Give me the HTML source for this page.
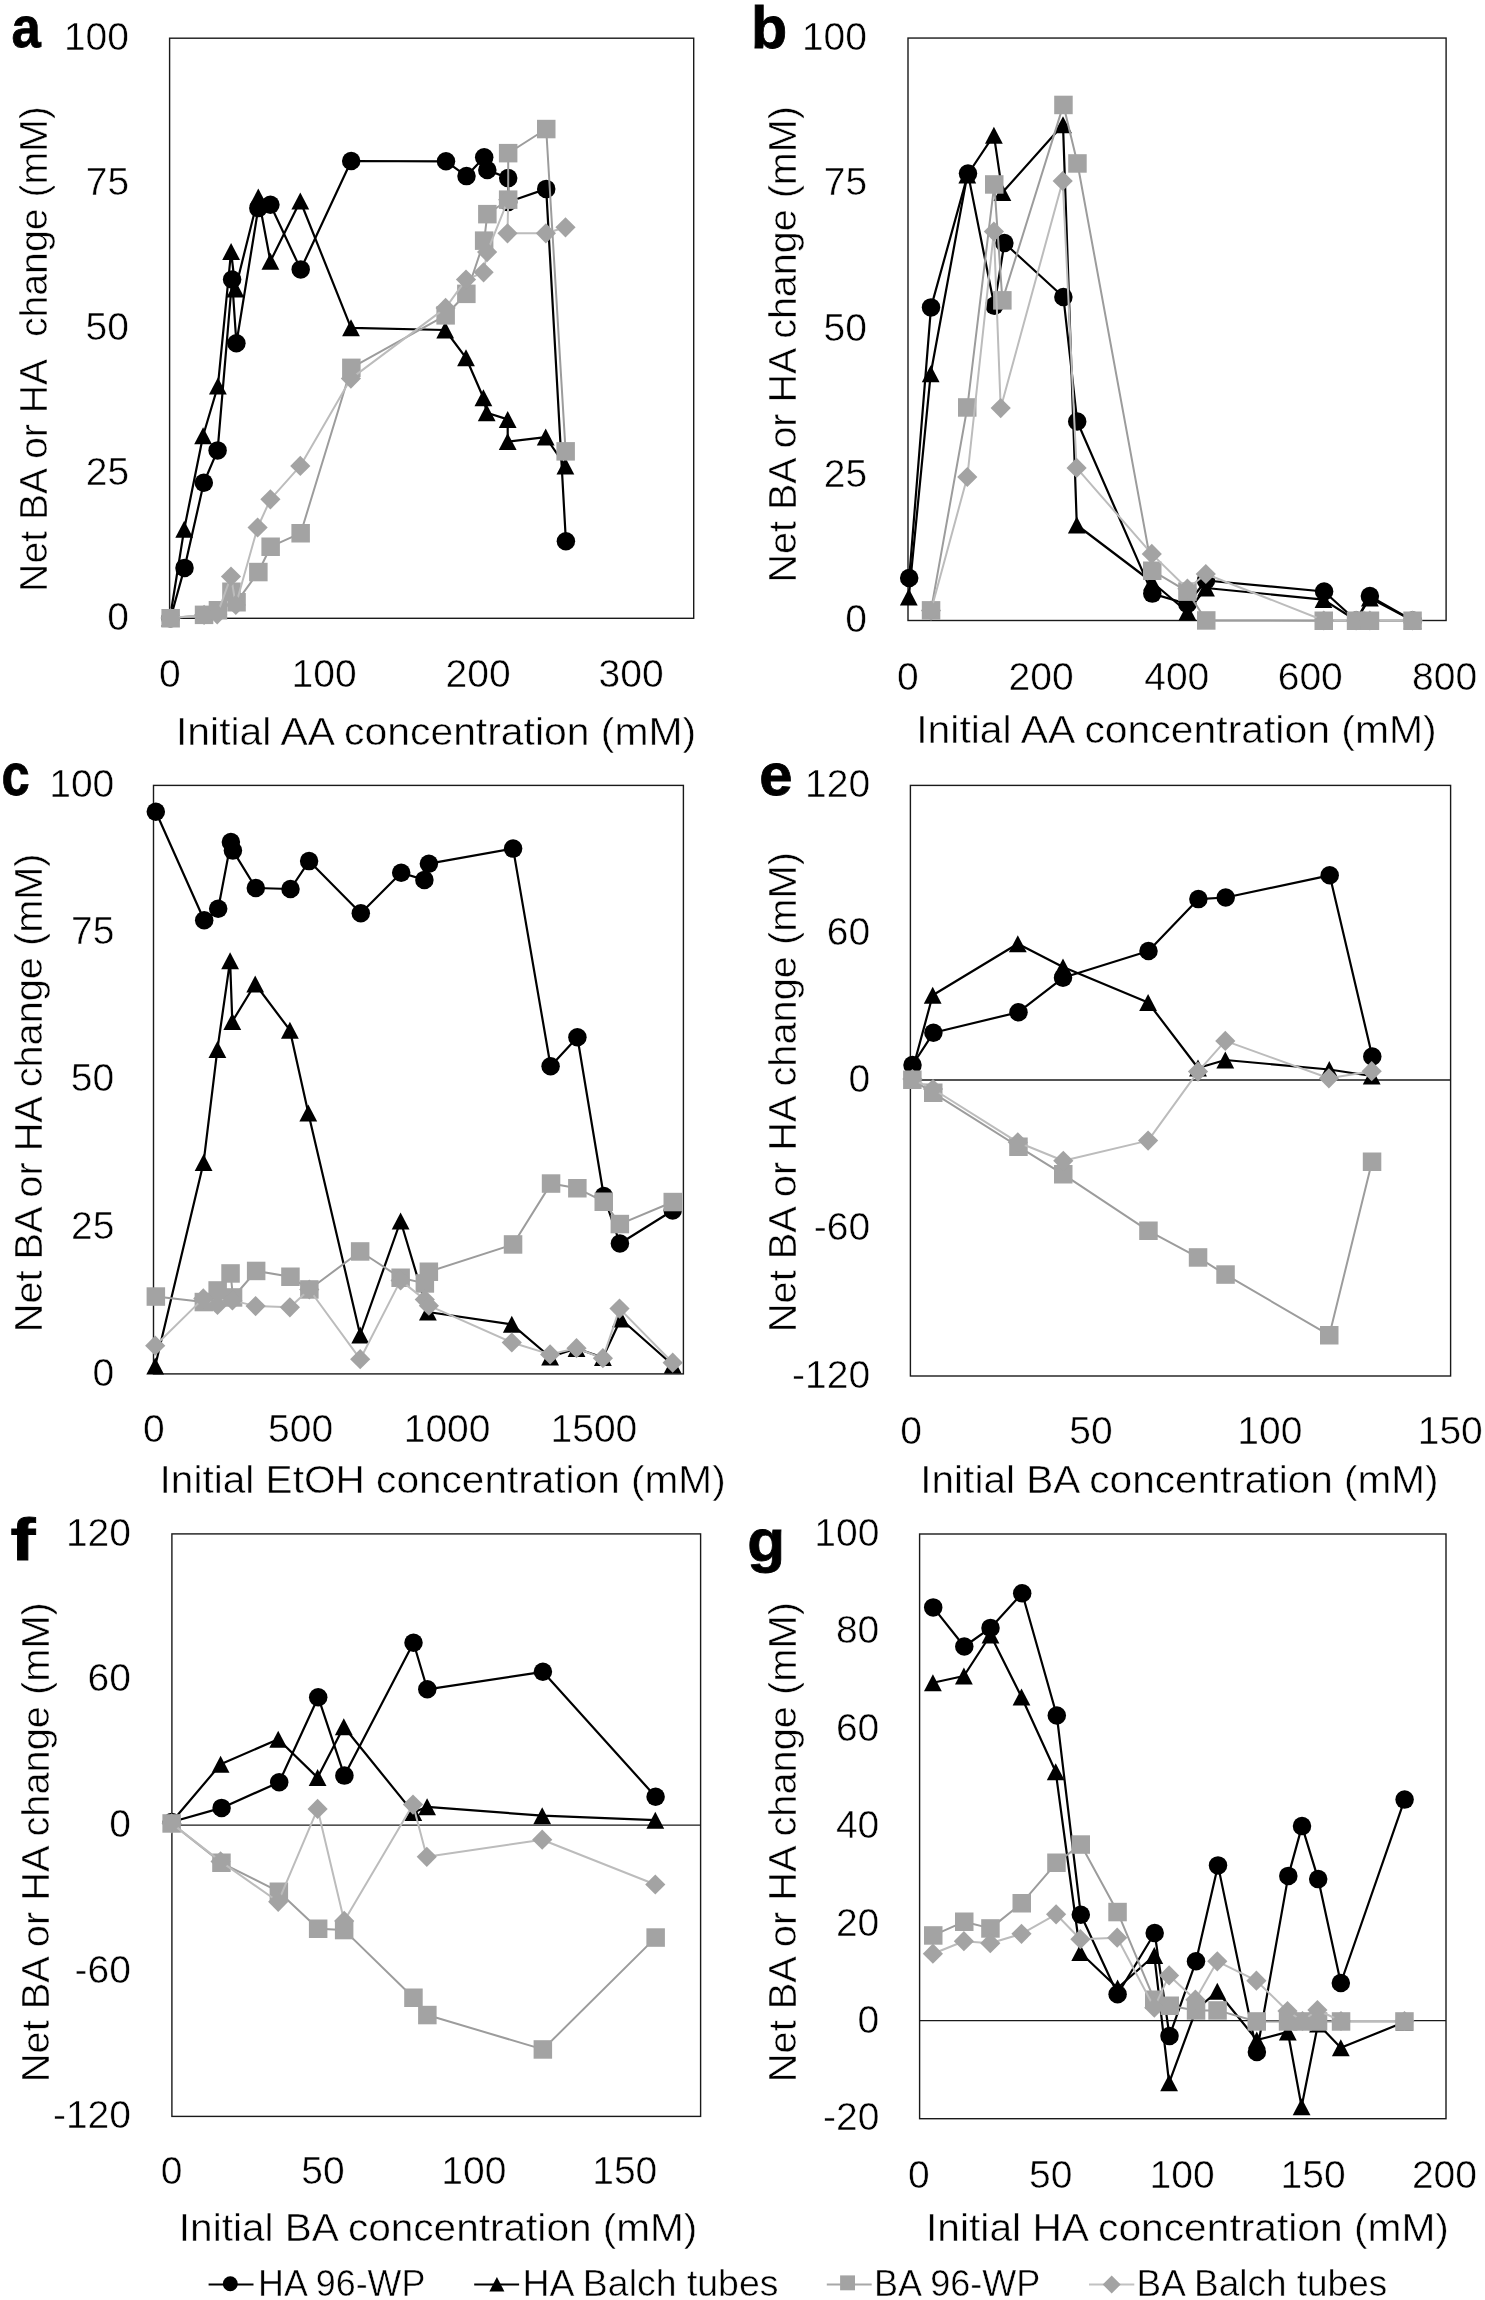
<!DOCTYPE html>
<html><head><meta charset="utf-8"><title>Figure</title>
<style>
html,body{margin:0;padding:0;background:#fff;}
body{width:1485px;height:2300px;overflow:hidden;}
svg{display:block;filter:grayscale(1);}
text{font-family:"Liberation Sans", sans-serif;fill:#000;stroke:#fff;stroke-width:0.5px;}
text[font-weight="bold"]{stroke:#000;stroke-width:0.8px;}
</style></head><body>
<svg width="1485" height="2300" viewBox="0 0 1485 2300">
<rect width="1485" height="2300" fill="#fff"/>
<rect x="169.60" y="38.20" width="524.10" height="580.10" fill="none" stroke="#1a1a1a" stroke-width="1.4"/>
<polyline points="170.5,618.2 184.5,567.9 203.8,482.8 217.6,450.4 232.1,279.5 236.4,343.2 258.3,208.1 270.4,204.7 300.7,269.4 351.2,161.0 446.0,161.3 466.5,176.1 484.2,157.2 487.3,170.0 508.2,178.1 508.2,202.0 546.2,188.9 565.9,541.2" fill="none" stroke="#000" stroke-width="2.20" stroke-linejoin="round" stroke-linecap="round"/>
<circle cx="170.5" cy="618.2" r="9.25" fill="#000"/>
<circle cx="184.5" cy="567.9" r="9.25" fill="#000"/>
<circle cx="203.8" cy="482.8" r="9.25" fill="#000"/>
<circle cx="217.6" cy="450.4" r="9.25" fill="#000"/>
<circle cx="232.1" cy="279.5" r="9.25" fill="#000"/>
<circle cx="236.4" cy="343.2" r="9.25" fill="#000"/>
<circle cx="258.3" cy="208.1" r="9.25" fill="#000"/>
<circle cx="270.4" cy="204.7" r="9.25" fill="#000"/>
<circle cx="300.7" cy="269.4" r="9.25" fill="#000"/>
<circle cx="351.2" cy="161.0" r="9.25" fill="#000"/>
<circle cx="446.0" cy="161.3" r="9.25" fill="#000"/>
<circle cx="466.5" cy="176.1" r="9.25" fill="#000"/>
<circle cx="484.2" cy="157.2" r="9.25" fill="#000"/>
<circle cx="487.3" cy="170.0" r="9.25" fill="#000"/>
<circle cx="508.2" cy="178.1" r="9.25" fill="#000"/>
<circle cx="508.2" cy="202.0" r="9.25" fill="#000"/>
<circle cx="546.2" cy="188.9" r="9.25" fill="#000"/>
<circle cx="565.9" cy="541.2" r="9.25" fill="#000"/>
<polyline points="170.0,618.0 184.2,529.2 203.1,435.8 217.9,386.0 231.1,251.5 235.4,289.0 258.3,197.0 270.4,261.3 300.3,201.0 351.0,327.8 445.2,330.0 466.0,357.8 483.4,397.8 486.7,412.7 507.7,419.4 507.7,441.6 545.7,437.1 565.4,466.0" fill="none" stroke="#000" stroke-width="2.20" stroke-linejoin="round" stroke-linecap="round"/>
<polygon points="170.0,609.5 178.9,626.5 161.1,626.5" fill="#000"/>
<polygon points="184.2,520.7 193.1,537.7 175.3,537.7" fill="#000"/>
<polygon points="203.1,427.3 212.0,444.3 194.2,444.3" fill="#000"/>
<polygon points="217.9,377.5 226.8,394.5 209.0,394.5" fill="#000"/>
<polygon points="231.1,243.0 240.0,260.0 222.2,260.0" fill="#000"/>
<polygon points="235.4,280.5 244.3,297.5 226.5,297.5" fill="#000"/>
<polygon points="258.3,188.5 267.2,205.5 249.4,205.5" fill="#000"/>
<polygon points="270.4,252.8 279.3,269.8 261.5,269.8" fill="#000"/>
<polygon points="300.3,192.5 309.2,209.5 291.4,209.5" fill="#000"/>
<polygon points="351.0,319.3 359.9,336.3 342.1,336.3" fill="#000"/>
<polygon points="445.2,321.5 454.1,338.5 436.3,338.5" fill="#000"/>
<polygon points="466.0,349.3 474.9,366.3 457.1,366.3" fill="#000"/>
<polygon points="483.4,389.3 492.3,406.3 474.5,406.3" fill="#000"/>
<polygon points="486.7,404.2 495.6,421.2 477.8,421.2" fill="#000"/>
<polygon points="507.7,410.9 516.6,427.9 498.8,427.9" fill="#000"/>
<polygon points="507.7,433.1 516.6,450.1 498.8,450.1" fill="#000"/>
<polygon points="545.7,428.6 554.6,445.6 536.8,445.6" fill="#000"/>
<polygon points="565.4,457.5 574.3,474.5 556.5,474.5" fill="#000"/>
<polyline points="170.7,618.3 204.1,614.9 217.9,610.3 231.5,591.8 236.6,602.2 258.3,572.0 270.7,546.7 300.7,533.2 351.3,367.8 445.6,315.3 466.4,293.8 484.2,240.7 487.3,214.2 508.2,199.7 508.2,153.2 546.2,129.0 565.6,451.4" fill="none" stroke="#9c9c9c" stroke-width="2.00" stroke-linejoin="round" stroke-linecap="round"/>
<rect x="161.4" y="609.0" width="18.5" height="18.5" fill="#a3a3a3"/>
<rect x="194.8" y="605.6" width="18.5" height="18.5" fill="#a3a3a3"/>
<rect x="208.7" y="601.0" width="18.5" height="18.5" fill="#a3a3a3"/>
<rect x="222.2" y="582.5" width="18.5" height="18.5" fill="#a3a3a3"/>
<rect x="227.3" y="593.0" width="18.5" height="18.5" fill="#a3a3a3"/>
<rect x="249.1" y="562.8" width="18.5" height="18.5" fill="#a3a3a3"/>
<rect x="261.4" y="537.5" width="18.5" height="18.5" fill="#a3a3a3"/>
<rect x="291.4" y="524.0" width="18.5" height="18.5" fill="#a3a3a3"/>
<rect x="342.1" y="358.6" width="18.5" height="18.5" fill="#a3a3a3"/>
<rect x="436.4" y="306.1" width="18.5" height="18.5" fill="#a3a3a3"/>
<rect x="457.1" y="284.6" width="18.5" height="18.5" fill="#a3a3a3"/>
<rect x="474.9" y="231.4" width="18.5" height="18.5" fill="#a3a3a3"/>
<rect x="478.1" y="204.9" width="18.5" height="18.5" fill="#a3a3a3"/>
<rect x="498.9" y="190.4" width="18.5" height="18.5" fill="#a3a3a3"/>
<rect x="498.9" y="143.9" width="18.5" height="18.5" fill="#a3a3a3"/>
<rect x="537.0" y="119.8" width="18.5" height="18.5" fill="#a3a3a3"/>
<rect x="556.4" y="442.1" width="18.5" height="18.5" fill="#a3a3a3"/>
<polyline points="170.5,618.0 204.1,614.9 217.2,614.3 231.0,576.5 235.8,604.9 257.6,527.5 270.4,499.3 300.3,465.9 350.9,378.6 445.6,307.9 466.0,279.6 483.6,272.3 487.1,252.1 508.2,199.7 507.5,233.3 545.9,233.3 565.5,227.3" fill="none" stroke="#bcbcbc" stroke-width="2.00" stroke-linejoin="round" stroke-linecap="round"/>
<polygon points="170.5,607.9 180.6,618.0 170.5,628.1 160.4,618.0" fill="#a3a3a3"/>
<polygon points="204.1,604.8 214.2,614.9 204.1,625.0 194.0,614.9" fill="#a3a3a3"/>
<polygon points="217.2,604.2 227.3,614.3 217.2,624.4 207.1,614.3" fill="#a3a3a3"/>
<polygon points="231.0,566.4 241.1,576.5 231.0,586.6 220.9,576.5" fill="#a3a3a3"/>
<polygon points="235.8,594.8 245.9,604.9 235.8,615.0 225.7,604.9" fill="#a3a3a3"/>
<polygon points="257.6,517.4 267.7,527.5 257.6,537.6 247.5,527.5" fill="#a3a3a3"/>
<polygon points="270.4,489.2 280.5,499.3 270.4,509.4 260.3,499.3" fill="#a3a3a3"/>
<polygon points="300.3,455.8 310.4,465.9 300.3,476.0 290.2,465.9" fill="#a3a3a3"/>
<polygon points="350.9,368.5 361.0,378.6 350.9,388.7 340.8,378.6" fill="#a3a3a3"/>
<polygon points="445.6,297.8 455.7,307.9 445.6,318.0 435.5,307.9" fill="#a3a3a3"/>
<polygon points="466.0,269.5 476.1,279.6 466.0,289.7 455.9,279.6" fill="#a3a3a3"/>
<polygon points="483.6,262.2 493.7,272.3 483.6,282.4 473.5,272.3" fill="#a3a3a3"/>
<polygon points="487.1,242.0 497.2,252.1 487.1,262.2 477.0,252.1" fill="#a3a3a3"/>
<polygon points="508.2,189.6 518.3,199.7 508.2,209.8 498.1,199.7" fill="#a3a3a3"/>
<polygon points="507.5,223.2 517.6,233.3 507.5,243.4 497.4,233.3" fill="#a3a3a3"/>
<polygon points="545.9,223.2 556.0,233.3 545.9,243.4 535.8,233.3" fill="#a3a3a3"/>
<polygon points="565.5,217.2 575.6,227.3 565.5,237.4 555.4,227.3" fill="#a3a3a3"/>
<text x="63.9" y="49.9" font-size="39.0">100</text>
<text x="85.7" y="194.9" font-size="39.0">75</text>
<text x="85.5" y="339.9" font-size="39.0">50</text>
<text x="85.7" y="485.0" font-size="39.0">25</text>
<text x="107.2" y="630.0" font-size="39.0">0</text>
<text x="158.9" y="686.6" font-size="39.0">0</text>
<text x="291.6" y="686.6" font-size="39.0">100</text>
<text x="445.6" y="686.6" font-size="39.0">200</text>
<text x="598.5" y="686.6" font-size="39.0">300</text>
<text x="176.0" y="745.0" font-size="39.4" textLength="520.1" lengthAdjust="spacingAndGlyphs">Initial AA concentration (mM)</text>
<text x="47.4" y="591.9" font-size="39.4" textLength="485.7" lengthAdjust="spacingAndGlyphs" transform="rotate(-90 47.4 591.9)">Net BA or HA&#160; change (mM)</text>
<text x="11.5" y="47.4" font-size="58.0" font-weight="bold" textLength="29.3" lengthAdjust="spacingAndGlyphs">a</text>
<rect x="908.00" y="38.05" width="538.10" height="582.45" fill="none" stroke="#1a1a1a" stroke-width="1.4"/>
<polyline points="909.2,578.0 931.0,307.4 968.0,173.6 994.3,305.8 1004.4,243.0 1063.4,297.0 1077.2,421.5 1152.3,593.6 1187.4,604.0 1206.0,580.5 1324.1,591.5 1356.1,620.5 1369.9,596.1 1412.6,620.5" fill="none" stroke="#000" stroke-width="2.20" stroke-linejoin="round" stroke-linecap="round"/>
<circle cx="909.2" cy="578.0" r="9.25" fill="#000"/>
<circle cx="931.0" cy="307.4" r="9.25" fill="#000"/>
<circle cx="968.0" cy="173.6" r="9.25" fill="#000"/>
<circle cx="994.3" cy="305.8" r="9.25" fill="#000"/>
<circle cx="1004.4" cy="243.0" r="9.25" fill="#000"/>
<circle cx="1063.4" cy="297.0" r="9.25" fill="#000"/>
<circle cx="1077.2" cy="421.5" r="9.25" fill="#000"/>
<circle cx="1152.3" cy="593.6" r="9.25" fill="#000"/>
<circle cx="1187.4" cy="604.0" r="9.25" fill="#000"/>
<circle cx="1206.0" cy="580.5" r="9.25" fill="#000"/>
<circle cx="1324.1" cy="591.5" r="9.25" fill="#000"/>
<circle cx="1356.1" cy="620.5" r="9.25" fill="#000"/>
<circle cx="1369.9" cy="596.1" r="9.25" fill="#000"/>
<circle cx="1412.6" cy="620.5" r="9.25" fill="#000"/>
<polyline points="908.8,597.0 930.7,373.8 967.3,175.0 993.9,135.2 1002.4,192.5 1063.0,124.8 1076.8,525.0 1152.0,582.0 1187.4,612.0 1206.0,588.0 1323.5,599.6 1356.1,620.5 1369.9,598.0 1412.6,620.5" fill="none" stroke="#000" stroke-width="2.20" stroke-linejoin="round" stroke-linecap="round"/>
<polygon points="908.8,588.5 917.7,605.5 899.9,605.5" fill="#000"/>
<polygon points="930.7,365.3 939.6,382.3 921.8,382.3" fill="#000"/>
<polygon points="967.3,166.5 976.2,183.5 958.4,183.5" fill="#000"/>
<polygon points="993.9,126.7 1002.8,143.7 985.0,143.7" fill="#000"/>
<polygon points="1002.4,184.0 1011.3,201.0 993.5,201.0" fill="#000"/>
<polygon points="1063.0,116.3 1071.9,133.3 1054.1,133.3" fill="#000"/>
<polygon points="1076.8,516.5 1085.7,533.5 1067.9,533.5" fill="#000"/>
<polygon points="1152.0,573.5 1160.9,590.5 1143.1,590.5" fill="#000"/>
<polygon points="1187.4,603.5 1196.3,620.5 1178.5,620.5" fill="#000"/>
<polygon points="1206.0,579.5 1214.9,596.5 1197.1,596.5" fill="#000"/>
<polygon points="1323.5,591.1 1332.4,608.1 1314.6,608.1" fill="#000"/>
<polygon points="1356.1,612.0 1365.0,629.0 1347.2,629.0" fill="#000"/>
<polygon points="1369.9,589.5 1378.8,606.5 1361.0,606.5" fill="#000"/>
<polygon points="1412.6,612.0 1421.5,629.0 1403.7,629.0" fill="#000"/>
<polyline points="931.0,610.4 967.3,407.5 994.3,184.4 1002.4,300.4 1063.4,104.9 1077.5,163.5 1152.3,570.7 1187.5,591.6 1206.2,620.5 1323.8,620.7 1356.1,620.7 1369.9,620.7 1412.6,620.7" fill="none" stroke="#9c9c9c" stroke-width="2.00" stroke-linejoin="round" stroke-linecap="round"/>
<rect x="921.8" y="601.1" width="18.5" height="18.5" fill="#a3a3a3"/>
<rect x="958.0" y="398.2" width="18.5" height="18.5" fill="#a3a3a3"/>
<rect x="985.0" y="175.2" width="18.5" height="18.5" fill="#a3a3a3"/>
<rect x="993.1" y="291.1" width="18.5" height="18.5" fill="#a3a3a3"/>
<rect x="1054.2" y="95.7" width="18.5" height="18.5" fill="#a3a3a3"/>
<rect x="1068.2" y="154.2" width="18.5" height="18.5" fill="#a3a3a3"/>
<rect x="1143.0" y="561.5" width="18.5" height="18.5" fill="#a3a3a3"/>
<rect x="1178.2" y="582.4" width="18.5" height="18.5" fill="#a3a3a3"/>
<rect x="1197.0" y="611.2" width="18.5" height="18.5" fill="#a3a3a3"/>
<rect x="1314.5" y="611.5" width="18.5" height="18.5" fill="#a3a3a3"/>
<rect x="1346.8" y="611.5" width="18.5" height="18.5" fill="#a3a3a3"/>
<rect x="1360.7" y="611.5" width="18.5" height="18.5" fill="#a3a3a3"/>
<rect x="1403.3" y="611.5" width="18.5" height="18.5" fill="#a3a3a3"/>
<polyline points="931.0,610.6 967.3,477.0 993.9,231.5 1000.7,408.1 1062.7,181.0 1076.6,467.9 1151.8,553.9 1187.4,588.7 1205.8,574.0 1323.8,620.5 1356.1,620.5 1369.9,620.5 1412.6,620.5" fill="none" stroke="#bcbcbc" stroke-width="2.00" stroke-linejoin="round" stroke-linecap="round"/>
<polygon points="931.0,600.5 941.1,610.6 931.0,620.7 920.9,610.6" fill="#a3a3a3"/>
<polygon points="967.3,466.9 977.4,477.0 967.3,487.1 957.2,477.0" fill="#a3a3a3"/>
<polygon points="993.9,221.4 1004.0,231.5 993.9,241.6 983.8,231.5" fill="#a3a3a3"/>
<polygon points="1000.7,398.0 1010.8,408.1 1000.7,418.2 990.6,408.1" fill="#a3a3a3"/>
<polygon points="1062.7,170.9 1072.8,181.0 1062.7,191.1 1052.6,181.0" fill="#a3a3a3"/>
<polygon points="1076.6,457.8 1086.7,467.9 1076.6,478.0 1066.5,467.9" fill="#a3a3a3"/>
<polygon points="1151.8,543.8 1161.9,553.9 1151.8,564.0 1141.7,553.9" fill="#a3a3a3"/>
<polygon points="1187.4,578.6 1197.5,588.7 1187.4,598.8 1177.3,588.7" fill="#a3a3a3"/>
<polygon points="1205.8,563.9 1215.9,574.0 1205.8,584.1 1195.7,574.0" fill="#a3a3a3"/>
<polygon points="1323.8,610.4 1333.9,620.5 1323.8,630.6 1313.7,620.5" fill="#a3a3a3"/>
<polygon points="1356.1,610.4 1366.2,620.5 1356.1,630.6 1346.0,620.5" fill="#a3a3a3"/>
<polygon points="1369.9,610.4 1380.0,620.5 1369.9,630.6 1359.8,620.5" fill="#a3a3a3"/>
<polygon points="1412.6,610.4 1422.7,620.5 1412.6,630.6 1402.5,620.5" fill="#a3a3a3"/>
<text x="801.9" y="49.8" font-size="39.0">100</text>
<text x="823.7" y="195.4" font-size="39.0">75</text>
<text x="823.5" y="341.0" font-size="39.0">50</text>
<text x="823.7" y="486.6" font-size="39.0">25</text>
<text x="845.2" y="632.2" font-size="39.0">0</text>
<text x="897.1" y="689.5" font-size="39.0">0</text>
<text x="1008.6" y="689.5" font-size="39.0">200</text>
<text x="1144.2" y="689.5" font-size="39.0">400</text>
<text x="1277.7" y="689.5" font-size="39.0">600</text>
<text x="1412.1" y="689.5" font-size="39.0">800</text>
<text x="916.2" y="743.0" font-size="39.4" textLength="520.5" lengthAdjust="spacingAndGlyphs">Initial AA concentration (mM)</text>
<text x="795.8" y="582.5" font-size="39.4" textLength="476.3" lengthAdjust="spacingAndGlyphs" transform="rotate(-90 795.8 582.5)">Net BA or HA change (mM)</text>
<text x="751.1" y="47.6" font-size="59.0" font-weight="bold" textLength="36.2" lengthAdjust="spacingAndGlyphs">b</text>
<rect x="153.50" y="785.40" width="529.90" height="588.50" fill="none" stroke="#1a1a1a" stroke-width="1.4"/>
<polyline points="155.8,811.8 204.2,920.3 218.2,908.8 230.9,842.1 232.9,850.6 255.8,888.0 290.5,889.0 309.1,861.1 360.8,913.2 401.2,872.8 424.4,879.9 428.9,863.7 513.1,848.6 550.6,1066.2 577.4,1037.3 603.8,1196.0 619.9,1243.5 672.7,1210.5" fill="none" stroke="#000" stroke-width="2.20" stroke-linejoin="round" stroke-linecap="round"/>
<circle cx="155.8" cy="811.8" r="9.25" fill="#000"/>
<circle cx="204.2" cy="920.3" r="9.25" fill="#000"/>
<circle cx="218.2" cy="908.8" r="9.25" fill="#000"/>
<circle cx="230.9" cy="842.1" r="9.25" fill="#000"/>
<circle cx="232.9" cy="850.6" r="9.25" fill="#000"/>
<circle cx="255.8" cy="888.0" r="9.25" fill="#000"/>
<circle cx="290.5" cy="889.0" r="9.25" fill="#000"/>
<circle cx="309.1" cy="861.1" r="9.25" fill="#000"/>
<circle cx="360.8" cy="913.2" r="9.25" fill="#000"/>
<circle cx="401.2" cy="872.8" r="9.25" fill="#000"/>
<circle cx="424.4" cy="879.9" r="9.25" fill="#000"/>
<circle cx="428.9" cy="863.7" r="9.25" fill="#000"/>
<circle cx="513.1" cy="848.6" r="9.25" fill="#000"/>
<circle cx="550.6" cy="1066.2" r="9.25" fill="#000"/>
<circle cx="577.4" cy="1037.3" r="9.25" fill="#000"/>
<circle cx="603.8" cy="1196.0" r="9.25" fill="#000"/>
<circle cx="619.9" cy="1243.5" r="9.25" fill="#000"/>
<circle cx="672.7" cy="1210.5" r="9.25" fill="#000"/>
<polyline points="155.2,1366.0 203.6,1162.4 217.4,1049.4 230.1,960.7 232.3,1021.5 255.2,984.0 289.9,1030.2 308.3,1113.0 360.2,1335.0 400.6,1221.0 427.9,1312.0 511.8,1324.3 550.1,1357.0 576.5,1348.5 602.9,1357.5 620.8,1319.0 672.7,1365.0" fill="none" stroke="#000" stroke-width="2.20" stroke-linejoin="round" stroke-linecap="round"/>
<polygon points="155.2,1357.5 164.1,1374.5 146.3,1374.5" fill="#000"/>
<polygon points="203.6,1153.9 212.5,1170.9 194.7,1170.9" fill="#000"/>
<polygon points="217.4,1040.9 226.3,1057.9 208.5,1057.9" fill="#000"/>
<polygon points="230.1,952.2 239.0,969.2 221.2,969.2" fill="#000"/>
<polygon points="232.3,1013.0 241.2,1030.0 223.4,1030.0" fill="#000"/>
<polygon points="255.2,975.5 264.1,992.5 246.3,992.5" fill="#000"/>
<polygon points="289.9,1021.7 298.8,1038.7 281.0,1038.7" fill="#000"/>
<polygon points="308.3,1104.5 317.2,1121.5 299.4,1121.5" fill="#000"/>
<polygon points="360.2,1326.5 369.1,1343.5 351.3,1343.5" fill="#000"/>
<polygon points="400.6,1212.5 409.5,1229.5 391.7,1229.5" fill="#000"/>
<polygon points="427.9,1303.5 436.8,1320.5 419.0,1320.5" fill="#000"/>
<polygon points="511.8,1315.8 520.7,1332.8 502.9,1332.8" fill="#000"/>
<polygon points="550.1,1348.5 559.0,1365.5 541.2,1365.5" fill="#000"/>
<polygon points="576.5,1340.0 585.4,1357.0 567.6,1357.0" fill="#000"/>
<polygon points="602.9,1349.0 611.8,1366.0 594.0,1366.0" fill="#000"/>
<polygon points="620.8,1310.5 629.7,1327.5 611.9,1327.5" fill="#000"/>
<polygon points="672.7,1356.5 681.6,1373.5 663.8,1373.5" fill="#000"/>
<polyline points="155.8,1296.6 203.8,1302.1 217.7,1290.4 230.6,1273.4 233.0,1297.5 256.2,1270.9 290.5,1276.8 309.3,1289.5 360.2,1251.5 400.6,1277.8 424.8,1283.4 428.9,1271.7 513.0,1244.5 551.0,1183.6 577.4,1188.3 603.8,1201.7 619.9,1224.1 672.7,1202.0" fill="none" stroke="#9c9c9c" stroke-width="2.00" stroke-linejoin="round" stroke-linecap="round"/>
<rect x="146.6" y="1287.3" width="18.5" height="18.5" fill="#a3a3a3"/>
<rect x="194.6" y="1292.8" width="18.5" height="18.5" fill="#a3a3a3"/>
<rect x="208.4" y="1281.2" width="18.5" height="18.5" fill="#a3a3a3"/>
<rect x="221.3" y="1264.2" width="18.5" height="18.5" fill="#a3a3a3"/>
<rect x="223.8" y="1288.2" width="18.5" height="18.5" fill="#a3a3a3"/>
<rect x="246.9" y="1261.7" width="18.5" height="18.5" fill="#a3a3a3"/>
<rect x="281.2" y="1267.5" width="18.5" height="18.5" fill="#a3a3a3"/>
<rect x="300.1" y="1280.2" width="18.5" height="18.5" fill="#a3a3a3"/>
<rect x="350.9" y="1242.2" width="18.5" height="18.5" fill="#a3a3a3"/>
<rect x="391.4" y="1268.5" width="18.5" height="18.5" fill="#a3a3a3"/>
<rect x="415.6" y="1274.2" width="18.5" height="18.5" fill="#a3a3a3"/>
<rect x="419.6" y="1262.5" width="18.5" height="18.5" fill="#a3a3a3"/>
<rect x="503.8" y="1235.2" width="18.5" height="18.5" fill="#a3a3a3"/>
<rect x="541.8" y="1174.3" width="18.5" height="18.5" fill="#a3a3a3"/>
<rect x="568.1" y="1179.0" width="18.5" height="18.5" fill="#a3a3a3"/>
<rect x="594.5" y="1192.5" width="18.5" height="18.5" fill="#a3a3a3"/>
<rect x="610.6" y="1214.8" width="18.5" height="18.5" fill="#a3a3a3"/>
<rect x="663.5" y="1192.8" width="18.5" height="18.5" fill="#a3a3a3"/>
<polyline points="155.2,1345.7 203.3,1298.4 217.5,1305.0 232.4,1300.4 255.6,1306.1 289.9,1307.3 309.3,1289.5 360.2,1359.2 400.6,1280.4 424.8,1299.6 428.9,1305.7 511.8,1342.5 550.1,1354.4 576.5,1348.2 602.9,1358.2 619.5,1308.6 672.7,1362.7" fill="none" stroke="#bcbcbc" stroke-width="2.00" stroke-linejoin="round" stroke-linecap="round"/>
<polygon points="155.2,1335.6 165.3,1345.7 155.2,1355.8 145.1,1345.7" fill="#a3a3a3"/>
<polygon points="203.3,1288.3 213.4,1298.4 203.3,1308.5 193.2,1298.4" fill="#a3a3a3"/>
<polygon points="217.5,1294.9 227.6,1305.0 217.5,1315.1 207.4,1305.0" fill="#a3a3a3"/>
<polygon points="232.4,1290.3 242.5,1300.4 232.4,1310.5 222.3,1300.4" fill="#a3a3a3"/>
<polygon points="255.6,1296.0 265.7,1306.1 255.6,1316.2 245.5,1306.1" fill="#a3a3a3"/>
<polygon points="289.9,1297.2 300.0,1307.3 289.9,1317.4 279.8,1307.3" fill="#a3a3a3"/>
<polygon points="309.3,1279.4 319.4,1289.5 309.3,1299.6 299.2,1289.5" fill="#a3a3a3"/>
<polygon points="360.2,1349.1 370.3,1359.2 360.2,1369.3 350.1,1359.2" fill="#a3a3a3"/>
<polygon points="400.6,1270.3 410.7,1280.4 400.6,1290.5 390.5,1280.4" fill="#a3a3a3"/>
<polygon points="424.8,1289.5 434.9,1299.6 424.8,1309.7 414.7,1299.6" fill="#a3a3a3"/>
<polygon points="428.9,1295.6 439.0,1305.7 428.9,1315.8 418.8,1305.7" fill="#a3a3a3"/>
<polygon points="511.8,1332.4 521.9,1342.5 511.8,1352.6 501.7,1342.5" fill="#a3a3a3"/>
<polygon points="550.1,1344.3 560.2,1354.4 550.1,1364.5 540.0,1354.4" fill="#a3a3a3"/>
<polygon points="576.5,1338.1 586.6,1348.2 576.5,1358.3 566.4,1348.2" fill="#a3a3a3"/>
<polygon points="602.9,1348.1 613.0,1358.2 602.9,1368.3 592.8,1358.2" fill="#a3a3a3"/>
<polygon points="619.5,1298.5 629.6,1308.6 619.5,1318.7 609.4,1308.6" fill="#a3a3a3"/>
<polygon points="672.7,1352.6 682.8,1362.7 672.7,1372.8 662.6,1362.7" fill="#a3a3a3"/>
<text x="49.2" y="797.1" font-size="39.0">100</text>
<text x="71.0" y="944.2" font-size="39.0">75</text>
<text x="70.8" y="1091.4" font-size="39.0">50</text>
<text x="71.0" y="1238.5" font-size="39.0">25</text>
<text x="92.5" y="1385.6" font-size="39.0">0</text>
<text x="143.1" y="1442.0" font-size="39.0">0</text>
<text x="268.1" y="1442.0" font-size="39.0">500</text>
<text x="403.7" y="1442.0" font-size="39.0">1000</text>
<text x="550.5" y="1442.0" font-size="39.0">1500</text>
<text x="159.6" y="1493.3" font-size="39.4" textLength="566.1" lengthAdjust="spacingAndGlyphs">Initial EtOH concentration (mM)</text>
<text x="41.7" y="1332.2" font-size="39.4" textLength="478.7" lengthAdjust="spacingAndGlyphs" transform="rotate(-90 41.7 1332.2)">Net BA or HA change (mM)</text>
<text x="1.6" y="795.2" font-size="59.0" font-weight="bold" textLength="28.2" lengthAdjust="spacingAndGlyphs">c</text>
<rect x="910.40" y="785.40" width="540.20" height="590.60" fill="none" stroke="#1a1a1a" stroke-width="1.4"/>
<line x1="910.40" y1="1080.00" x2="1450.60" y2="1080.00" stroke="#1a1a1a" stroke-width="1.4"/>
<polyline points="912.5,1065.0 933.4,1032.8 1018.5,1012.2 1063.0,977.8 1148.5,951.0 1198.4,899.1 1225.7,897.5 1329.7,875.3 1372.3,1056.5" fill="none" stroke="#000" stroke-width="2.20" stroke-linejoin="round" stroke-linecap="round"/>
<circle cx="912.5" cy="1065.0" r="9.25" fill="#000"/>
<circle cx="933.4" cy="1032.8" r="9.25" fill="#000"/>
<circle cx="1018.5" cy="1012.2" r="9.25" fill="#000"/>
<circle cx="1063.0" cy="977.8" r="9.25" fill="#000"/>
<circle cx="1148.5" cy="951.0" r="9.25" fill="#000"/>
<circle cx="1198.4" cy="899.1" r="9.25" fill="#000"/>
<circle cx="1225.7" cy="897.5" r="9.25" fill="#000"/>
<circle cx="1329.7" cy="875.3" r="9.25" fill="#000"/>
<circle cx="1372.3" cy="1056.5" r="9.25" fill="#000"/>
<polyline points="912.5,1070.0 932.7,995.3 1017.8,943.8 1063.0,967.0 1148.1,1002.5 1198.0,1068.0 1225.3,1060.0 1329.3,1069.5 1371.7,1076.0" fill="none" stroke="#000" stroke-width="2.20" stroke-linejoin="round" stroke-linecap="round"/>
<polygon points="912.5,1061.5 921.4,1078.5 903.6,1078.5" fill="#000"/>
<polygon points="932.7,986.8 941.6,1003.8 923.8,1003.8" fill="#000"/>
<polygon points="1017.8,935.3 1026.7,952.3 1008.9,952.3" fill="#000"/>
<polygon points="1063.0,958.5 1071.9,975.5 1054.1,975.5" fill="#000"/>
<polygon points="1148.1,994.0 1157.0,1011.0 1139.2,1011.0" fill="#000"/>
<polygon points="1198.0,1059.5 1206.9,1076.5 1189.1,1076.5" fill="#000"/>
<polygon points="1225.3,1051.5 1234.2,1068.5 1216.4,1068.5" fill="#000"/>
<polygon points="1329.3,1061.0 1338.2,1078.0 1320.4,1078.0" fill="#000"/>
<polygon points="1371.7,1067.5 1380.6,1084.5 1362.8,1084.5" fill="#000"/>
<polyline points="912.4,1079.8 933.2,1092.8 1018.5,1146.7 1063.3,1174.3 1148.5,1230.8 1198.0,1257.4 1225.6,1274.6 1329.3,1335.2 1372.0,1161.8" fill="none" stroke="#9c9c9c" stroke-width="2.00" stroke-linejoin="round" stroke-linecap="round"/>
<rect x="903.1" y="1070.5" width="18.5" height="18.5" fill="#a3a3a3"/>
<rect x="924.0" y="1083.5" width="18.5" height="18.5" fill="#a3a3a3"/>
<rect x="1009.2" y="1137.5" width="18.5" height="18.5" fill="#a3a3a3"/>
<rect x="1054.0" y="1165.0" width="18.5" height="18.5" fill="#a3a3a3"/>
<rect x="1139.2" y="1221.5" width="18.5" height="18.5" fill="#a3a3a3"/>
<rect x="1188.8" y="1248.2" width="18.5" height="18.5" fill="#a3a3a3"/>
<rect x="1216.3" y="1265.3" width="18.5" height="18.5" fill="#a3a3a3"/>
<rect x="1320.0" y="1326.0" width="18.5" height="18.5" fill="#a3a3a3"/>
<rect x="1362.8" y="1152.5" width="18.5" height="18.5" fill="#a3a3a3"/>
<polyline points="912.4,1079.0 933.0,1089.0 1017.8,1142.3 1063.3,1160.8 1148.1,1140.6 1198.0,1071.6 1225.3,1040.9 1328.9,1078.3 1371.7,1071.2" fill="none" stroke="#bcbcbc" stroke-width="2.00" stroke-linejoin="round" stroke-linecap="round"/>
<polygon points="912.4,1068.9 922.5,1079.0 912.4,1089.1 902.3,1079.0" fill="#a3a3a3"/>
<polygon points="933.0,1078.9 943.1,1089.0 933.0,1099.1 922.9,1089.0" fill="#a3a3a3"/>
<polygon points="1017.8,1132.2 1027.9,1142.3 1017.8,1152.4 1007.7,1142.3" fill="#a3a3a3"/>
<polygon points="1063.3,1150.7 1073.4,1160.8 1063.3,1170.9 1053.2,1160.8" fill="#a3a3a3"/>
<polygon points="1148.1,1130.5 1158.2,1140.6 1148.1,1150.7 1138.0,1140.6" fill="#a3a3a3"/>
<polygon points="1198.0,1061.5 1208.1,1071.6 1198.0,1081.7 1187.9,1071.6" fill="#a3a3a3"/>
<polygon points="1225.3,1030.8 1235.4,1040.9 1225.3,1051.0 1215.2,1040.9" fill="#a3a3a3"/>
<polygon points="1328.9,1068.2 1339.0,1078.3 1328.9,1088.4 1318.8,1078.3" fill="#a3a3a3"/>
<polygon points="1371.7,1061.1 1381.8,1071.2 1371.7,1081.3 1361.6,1071.2" fill="#a3a3a3"/>
<text x="805.1" y="797.1" font-size="39.0">120</text>
<text x="826.7" y="944.8" font-size="39.0">60</text>
<text x="848.4" y="1092.4" font-size="39.0">0</text>
<text x="813.8" y="1240.0" font-size="39.0">-60</text>
<text x="792.1" y="1387.7" font-size="39.0">-120</text>
<text x="900.2" y="1444.4" font-size="39.0">0</text>
<text x="1069.3" y="1444.4" font-size="39.0">50</text>
<text x="1237.3" y="1444.4" font-size="39.0">100</text>
<text x="1417.7" y="1444.4" font-size="39.0">150</text>
<text x="920.3" y="1492.9" font-size="39.4" textLength="518.3" lengthAdjust="spacingAndGlyphs">Initial BA concentration (mM)</text>
<text x="796.3" y="1332.2" font-size="39.4" textLength="480.1" lengthAdjust="spacingAndGlyphs" transform="rotate(-90 796.3 1332.2)">Net BA or HA change (mM)</text>
<text x="759.2" y="795.1" font-size="59.5" font-weight="bold" textLength="33.3" lengthAdjust="spacingAndGlyphs">e</text>
<rect x="171.90" y="1533.90" width="528.70" height="582.50" fill="none" stroke="#1a1a1a" stroke-width="1.4"/>
<line x1="171.90" y1="1825.10" x2="700.60" y2="1825.10" stroke="#1a1a1a" stroke-width="1.4"/>
<polyline points="171.7,1822.0 221.6,1807.9 279.2,1782.2 318.2,1697.2 344.4,1775.6 413.5,1642.8 427.3,1689.3 542.9,1671.8 655.6,1796.7" fill="none" stroke="#000" stroke-width="2.20" stroke-linejoin="round" stroke-linecap="round"/>
<circle cx="171.7" cy="1822.0" r="9.25" fill="#000"/>
<circle cx="221.6" cy="1807.9" r="9.25" fill="#000"/>
<circle cx="279.2" cy="1782.2" r="9.25" fill="#000"/>
<circle cx="318.2" cy="1697.2" r="9.25" fill="#000"/>
<circle cx="344.4" cy="1775.6" r="9.25" fill="#000"/>
<circle cx="413.5" cy="1642.8" r="9.25" fill="#000"/>
<circle cx="427.3" cy="1689.3" r="9.25" fill="#000"/>
<circle cx="542.9" cy="1671.8" r="9.25" fill="#000"/>
<circle cx="655.6" cy="1796.7" r="9.25" fill="#000"/>
<polyline points="171.7,1822.0 220.6,1764.3 278.2,1739.2 317.6,1777.6 343.8,1726.8 413.3,1812.6 427.1,1806.8 542.2,1815.7 655.3,1820.2" fill="none" stroke="#000" stroke-width="2.20" stroke-linejoin="round" stroke-linecap="round"/>
<polygon points="171.7,1813.5 180.6,1830.5 162.8,1830.5" fill="#000"/>
<polygon points="220.6,1755.8 229.5,1772.8 211.7,1772.8" fill="#000"/>
<polygon points="278.2,1730.7 287.1,1747.7 269.3,1747.7" fill="#000"/>
<polygon points="317.6,1769.1 326.5,1786.1 308.7,1786.1" fill="#000"/>
<polygon points="343.8,1718.3 352.7,1735.3 334.9,1735.3" fill="#000"/>
<polygon points="413.3,1804.1 422.2,1821.1 404.4,1821.1" fill="#000"/>
<polygon points="427.1,1798.3 436.0,1815.3 418.2,1815.3" fill="#000"/>
<polygon points="542.2,1807.2 551.1,1824.2 533.3,1824.2" fill="#000"/>
<polygon points="655.3,1811.7 664.2,1828.7 646.4,1828.7" fill="#000"/>
<polyline points="171.7,1823.4 221.4,1862.8 278.8,1891.7 318.2,1928.7 344.2,1930.1 413.5,1997.8 427.3,2015.0 542.9,2049.4 655.6,1937.6" fill="none" stroke="#9c9c9c" stroke-width="2.00" stroke-linejoin="round" stroke-linecap="round"/>
<rect x="162.4" y="1814.2" width="18.5" height="18.5" fill="#a3a3a3"/>
<rect x="212.2" y="1853.5" width="18.5" height="18.5" fill="#a3a3a3"/>
<rect x="269.6" y="1882.5" width="18.5" height="18.5" fill="#a3a3a3"/>
<rect x="308.9" y="1919.5" width="18.5" height="18.5" fill="#a3a3a3"/>
<rect x="334.9" y="1920.8" width="18.5" height="18.5" fill="#a3a3a3"/>
<rect x="404.2" y="1988.5" width="18.5" height="18.5" fill="#a3a3a3"/>
<rect x="418.1" y="2005.8" width="18.5" height="18.5" fill="#a3a3a3"/>
<rect x="533.6" y="2040.2" width="18.5" height="18.5" fill="#a3a3a3"/>
<rect x="646.4" y="1928.3" width="18.5" height="18.5" fill="#a3a3a3"/>
<polyline points="171.7,1823.4 220.6,1861.4 278.2,1901.8 317.6,1808.9 344.2,1920.9 413.0,1804.6 426.8,1856.8 542.2,1839.7 655.3,1884.5" fill="none" stroke="#bcbcbc" stroke-width="2.00" stroke-linejoin="round" stroke-linecap="round"/>
<polygon points="171.7,1813.3 181.8,1823.4 171.7,1833.5 161.6,1823.4" fill="#a3a3a3"/>
<polygon points="220.6,1851.3 230.7,1861.4 220.6,1871.5 210.5,1861.4" fill="#a3a3a3"/>
<polygon points="278.2,1891.7 288.3,1901.8 278.2,1911.9 268.1,1901.8" fill="#a3a3a3"/>
<polygon points="317.6,1798.8 327.7,1808.9 317.6,1819.0 307.5,1808.9" fill="#a3a3a3"/>
<polygon points="344.2,1910.8 354.3,1920.9 344.2,1931.0 334.1,1920.9" fill="#a3a3a3"/>
<polygon points="413.0,1794.5 423.1,1804.6 413.0,1814.7 402.9,1804.6" fill="#a3a3a3"/>
<polygon points="426.8,1846.7 436.9,1856.8 426.8,1866.9 416.7,1856.8" fill="#a3a3a3"/>
<polygon points="542.2,1829.6 552.3,1839.7 542.2,1849.8 532.1,1839.7" fill="#a3a3a3"/>
<polygon points="655.3,1874.4 665.4,1884.5 655.3,1894.6 645.2,1884.5" fill="#a3a3a3"/>
<text x="65.9" y="1545.6" font-size="39.0">120</text>
<text x="87.5" y="1691.2" font-size="39.0">60</text>
<text x="109.2" y="1836.9" font-size="39.0">0</text>
<text x="74.6" y="1982.5" font-size="39.0">-60</text>
<text x="52.9" y="2128.1" font-size="39.0">-120</text>
<text x="160.7" y="2184.4" font-size="39.0">0</text>
<text x="301.3" y="2184.4" font-size="39.0">50</text>
<text x="441.3" y="2184.4" font-size="39.0">100</text>
<text x="592.2" y="2184.4" font-size="39.0">150</text>
<text x="178.8" y="2241.0" font-size="39.4" textLength="518.6" lengthAdjust="spacingAndGlyphs">Initial BA concentration (mM)</text>
<text x="48.7" y="2082.2" font-size="39.4" textLength="480.1" lengthAdjust="spacingAndGlyphs" transform="rotate(-90 48.7 2082.2)">Net BA or HA change (mM)</text>
<text x="10.4" y="1560.1" font-size="59.4" font-weight="bold" textLength="25.0" lengthAdjust="spacingAndGlyphs">f</text>
<rect x="919.60" y="1534.00" width="526.40" height="584.70" fill="none" stroke="#1a1a1a" stroke-width="1.4"/>
<line x1="919.60" y1="2020.60" x2="1446.00" y2="2020.60" stroke="#1a1a1a" stroke-width="1.4"/>
<polyline points="933.2,1607.4 964.3,1646.5 990.5,1627.9 1022.2,1593.3 1056.8,1715.5 1080.8,1914.7 1117.6,1994.3 1154.7,1933.0 1169.5,2036.0 1196.0,1961.3 1218.0,1865.4 1256.9,2052.0 1288.3,1875.9 1302.0,1826.1 1318.2,1879.1 1340.8,1983.0 1404.6,1799.6" fill="none" stroke="#000" stroke-width="2.20" stroke-linejoin="round" stroke-linecap="round"/>
<circle cx="933.2" cy="1607.4" r="9.25" fill="#000"/>
<circle cx="964.3" cy="1646.5" r="9.25" fill="#000"/>
<circle cx="990.5" cy="1627.9" r="9.25" fill="#000"/>
<circle cx="1022.2" cy="1593.3" r="9.25" fill="#000"/>
<circle cx="1056.8" cy="1715.5" r="9.25" fill="#000"/>
<circle cx="1080.8" cy="1914.7" r="9.25" fill="#000"/>
<circle cx="1117.6" cy="1994.3" r="9.25" fill="#000"/>
<circle cx="1154.7" cy="1933.0" r="9.25" fill="#000"/>
<circle cx="1169.5" cy="2036.0" r="9.25" fill="#000"/>
<circle cx="1196.0" cy="1961.3" r="9.25" fill="#000"/>
<circle cx="1218.0" cy="1865.4" r="9.25" fill="#000"/>
<circle cx="1256.9" cy="2052.0" r="9.25" fill="#000"/>
<circle cx="1288.3" cy="1875.9" r="9.25" fill="#000"/>
<circle cx="1302.0" cy="1826.1" r="9.25" fill="#000"/>
<circle cx="1318.2" cy="1879.1" r="9.25" fill="#000"/>
<circle cx="1340.8" cy="1983.0" r="9.25" fill="#000"/>
<circle cx="1404.6" cy="1799.6" r="9.25" fill="#000"/>
<polyline points="932.9,1682.8 963.9,1676.0 990.5,1635.0 1021.5,1697.0 1055.7,1771.7 1080.2,1952.5 1117.6,1988.0 1154.3,1955.5 1169.1,2082.8 1196.0,2010.0 1217.3,1991.3 1256.8,2040.0 1287.8,2031.9 1301.6,2106.7 1318.0,2024.0 1340.8,2047.8 1404.5,2022.0" fill="none" stroke="#000" stroke-width="2.20" stroke-linejoin="round" stroke-linecap="round"/>
<polygon points="932.9,1674.3 941.8,1691.3 924.0,1691.3" fill="#000"/>
<polygon points="963.9,1667.5 972.8,1684.5 955.0,1684.5" fill="#000"/>
<polygon points="990.5,1626.5 999.4,1643.5 981.6,1643.5" fill="#000"/>
<polygon points="1021.5,1688.5 1030.4,1705.5 1012.6,1705.5" fill="#000"/>
<polygon points="1055.7,1763.2 1064.6,1780.2 1046.8,1780.2" fill="#000"/>
<polygon points="1080.2,1944.0 1089.1,1961.0 1071.3,1961.0" fill="#000"/>
<polygon points="1117.6,1979.5 1126.5,1996.5 1108.7,1996.5" fill="#000"/>
<polygon points="1154.3,1947.0 1163.2,1964.0 1145.4,1964.0" fill="#000"/>
<polygon points="1169.1,2074.3 1178.0,2091.3 1160.2,2091.3" fill="#000"/>
<polygon points="1196.0,2001.5 1204.9,2018.5 1187.1,2018.5" fill="#000"/>
<polygon points="1217.3,1982.8 1226.2,1999.8 1208.4,1999.8" fill="#000"/>
<polygon points="1256.8,2031.5 1265.7,2048.5 1247.9,2048.5" fill="#000"/>
<polygon points="1287.8,2023.4 1296.7,2040.4 1278.9,2040.4" fill="#000"/>
<polygon points="1301.6,2098.2 1310.5,2115.2 1292.7,2115.2" fill="#000"/>
<polygon points="1318.0,2015.5 1326.9,2032.5 1309.1,2032.5" fill="#000"/>
<polygon points="1340.8,2039.3 1349.7,2056.3 1331.9,2056.3" fill="#000"/>
<polygon points="1404.5,2013.5 1413.4,2030.5 1395.6,2030.5" fill="#000"/>
<polyline points="933.3,1935.4 964.3,1921.7 990.5,1928.4 1021.8,1903.2 1056.5,1862.8 1080.8,1844.6 1117.6,1912.1 1154.3,1999.7 1169.8,2005.7 1196.0,2010.4 1217.6,2010.4 1256.7,2021.5 1288.0,2021.5 1302.5,2021.5 1318.0,2021.5 1341.1,2021.5 1404.5,2021.5" fill="none" stroke="#9c9c9c" stroke-width="2.00" stroke-linejoin="round" stroke-linecap="round"/>
<rect x="924.0" y="1926.2" width="18.5" height="18.5" fill="#a3a3a3"/>
<rect x="955.0" y="1912.5" width="18.5" height="18.5" fill="#a3a3a3"/>
<rect x="981.2" y="1919.2" width="18.5" height="18.5" fill="#a3a3a3"/>
<rect x="1012.5" y="1894.0" width="18.5" height="18.5" fill="#a3a3a3"/>
<rect x="1047.2" y="1853.5" width="18.5" height="18.5" fill="#a3a3a3"/>
<rect x="1071.5" y="1835.3" width="18.5" height="18.5" fill="#a3a3a3"/>
<rect x="1108.3" y="1902.8" width="18.5" height="18.5" fill="#a3a3a3"/>
<rect x="1145.0" y="1990.5" width="18.5" height="18.5" fill="#a3a3a3"/>
<rect x="1160.5" y="1996.5" width="18.5" height="18.5" fill="#a3a3a3"/>
<rect x="1186.8" y="2001.2" width="18.5" height="18.5" fill="#a3a3a3"/>
<rect x="1208.3" y="2001.2" width="18.5" height="18.5" fill="#a3a3a3"/>
<rect x="1247.5" y="2012.2" width="18.5" height="18.5" fill="#a3a3a3"/>
<rect x="1278.8" y="2012.2" width="18.5" height="18.5" fill="#a3a3a3"/>
<rect x="1293.2" y="2012.2" width="18.5" height="18.5" fill="#a3a3a3"/>
<rect x="1308.8" y="2012.2" width="18.5" height="18.5" fill="#a3a3a3"/>
<rect x="1331.8" y="2012.2" width="18.5" height="18.5" fill="#a3a3a3"/>
<rect x="1395.2" y="2012.2" width="18.5" height="18.5" fill="#a3a3a3"/>
<polyline points="932.9,1953.7 963.9,1941.2 990.3,1943.2 1021.5,1933.8 1056.1,1914.3 1080.4,1939.2 1117.2,1937.7 1154.3,2007.7 1169.1,1975.4 1195.4,1999.7 1217.3,1961.3 1256.4,1980.7 1287.5,2011.0 1302.5,2021.0 1317.4,2010.0 1341.0,2021.0 1404.5,2021.0" fill="none" stroke="#bcbcbc" stroke-width="2.00" stroke-linejoin="round" stroke-linecap="round"/>
<polygon points="932.9,1943.6 943.0,1953.7 932.9,1963.8 922.8,1953.7" fill="#a3a3a3"/>
<polygon points="963.9,1931.1 974.0,1941.2 963.9,1951.3 953.8,1941.2" fill="#a3a3a3"/>
<polygon points="990.3,1933.1 1000.4,1943.2 990.3,1953.3 980.2,1943.2" fill="#a3a3a3"/>
<polygon points="1021.5,1923.7 1031.6,1933.8 1021.5,1943.9 1011.4,1933.8" fill="#a3a3a3"/>
<polygon points="1056.1,1904.2 1066.2,1914.3 1056.1,1924.4 1046.0,1914.3" fill="#a3a3a3"/>
<polygon points="1080.4,1929.1 1090.5,1939.2 1080.4,1949.3 1070.3,1939.2" fill="#a3a3a3"/>
<polygon points="1117.2,1927.6 1127.3,1937.7 1117.2,1947.8 1107.1,1937.7" fill="#a3a3a3"/>
<polygon points="1154.3,1997.6 1164.4,2007.7 1154.3,2017.8 1144.2,2007.7" fill="#a3a3a3"/>
<polygon points="1169.1,1965.3 1179.2,1975.4 1169.1,1985.5 1159.0,1975.4" fill="#a3a3a3"/>
<polygon points="1195.4,1989.6 1205.5,1999.7 1195.4,2009.8 1185.3,1999.7" fill="#a3a3a3"/>
<polygon points="1217.3,1951.2 1227.4,1961.3 1217.3,1971.4 1207.2,1961.3" fill="#a3a3a3"/>
<polygon points="1256.4,1970.6 1266.5,1980.7 1256.4,1990.8 1246.3,1980.7" fill="#a3a3a3"/>
<polygon points="1287.5,2000.9 1297.6,2011.0 1287.5,2021.1 1277.4,2011.0" fill="#a3a3a3"/>
<polygon points="1302.5,2010.9 1312.6,2021.0 1302.5,2031.1 1292.4,2021.0" fill="#a3a3a3"/>
<polygon points="1317.4,1999.9 1327.5,2010.0 1317.4,2020.1 1307.3,2010.0" fill="#a3a3a3"/>
<polygon points="1341.0,2010.9 1351.1,2021.0 1341.0,2031.1 1330.9,2021.0" fill="#a3a3a3"/>
<polygon points="1404.5,2010.9 1414.6,2021.0 1404.5,2031.1 1394.4,2021.0" fill="#a3a3a3"/>
<text x="814.3" y="1545.7" font-size="39.0">100</text>
<text x="835.9" y="1643.2" font-size="39.0">80</text>
<text x="835.9" y="1740.6" font-size="39.0">60</text>
<text x="835.9" y="1838.0" font-size="39.0">40</text>
<text x="835.9" y="1935.5" font-size="39.0">20</text>
<text x="857.6" y="2033.0" font-size="39.0">0</text>
<text x="823.0" y="2130.4" font-size="39.0">-20</text>
<text x="907.9" y="2187.6" font-size="39.0">0</text>
<text x="1029.0" y="2187.6" font-size="39.0">50</text>
<text x="1149.5" y="2187.6" font-size="39.0">100</text>
<text x="1280.6" y="2187.6" font-size="39.0">150</text>
<text x="1411.9" y="2187.6" font-size="39.0">200</text>
<text x="926.0" y="2241.0" font-size="39.4" textLength="522.9" lengthAdjust="spacingAndGlyphs">Initial HA concentration (mM)</text>
<text x="796.3" y="2082.2" font-size="39.4" textLength="480.1" lengthAdjust="spacingAndGlyphs" transform="rotate(-90 796.3 2082.2)">Net BA or HA change (mM)</text>
<text x="747.3" y="1561.4" font-size="59.3" font-weight="bold" textLength="37.9" lengthAdjust="spacingAndGlyphs">g</text>
<line x1="208.6" y1="2284.5" x2="253.5" y2="2284.5" stroke="#000" stroke-width="2.2"/>
<circle cx="230.3" cy="2283.8" r="7.45" fill="#000"/>
<text x="258.1" y="2295.5" font-size="36.8" textLength="167.2" lengthAdjust="spacingAndGlyphs">HA 96-WP</text>
<line x1="474.2" y1="2284.5" x2="519.1" y2="2284.5" stroke="#000" stroke-width="2.2"/>
<polygon points="496.9,2276.9 504.4,2291.4 489.4,2291.4" fill="#000"/>
<text x="522.5" y="2295.5" font-size="36.8" textLength="256.0" lengthAdjust="spacingAndGlyphs">HA Balch tubes</text>
<line x1="826.8" y1="2284.5" x2="871.7" y2="2284.5" stroke="#a8a8a8" stroke-width="2.2"/>
<rect x="840.1" y="2275.4" width="14.9" height="14.9" fill="#a3a3a3"/>
<text x="874.1" y="2295.5" font-size="36.8" textLength="166.2" lengthAdjust="spacingAndGlyphs">BA 96-WP</text>
<line x1="1089.0" y1="2284.5" x2="1134.3" y2="2284.5" stroke="#c2c2c2" stroke-width="2.2"/>
<polygon points="1111.7,2275.5 1120.7,2284.5 1111.7,2293.5 1102.7,2284.5" fill="#a3a3a3"/>
<text x="1136.6" y="2295.5" font-size="36.8" textLength="250.6" lengthAdjust="spacingAndGlyphs">BA Balch tubes</text>
</svg>
</body></html>
